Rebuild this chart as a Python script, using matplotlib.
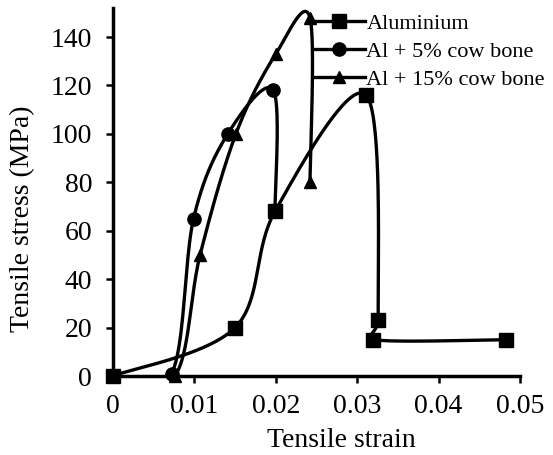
import numpy as np
import matplotlib
matplotlib.use("Agg")
import matplotlib.pyplot as plt

plt.rcParams['font.family'] = ['Liberation Serif', 'DejaVu Serif']

al_x = [0.0, 0.0150, 0.0199, 0.0311, 0.0326, 0.0320, 0.0483]
al_y = [0.0, 20.0, 68.0, 116.0, 23.0, 15.0, 15.0]

cb5_x = [0.0, 0.0072, 0.0099, 0.0141, 0.0197, 0.0199]
cb5_y = [0.0, 1.0, 65.0, 100.0, 118.0, 68.0]

cb15_x = [0.0, 0.0076, 0.0107, 0.0151, 0.0200, 0.0242, 0.0242]
cb15_y = [0.0, 0.0, 50.0, 100.0, 133.0, 148.0, 80.0]

labels = ["Aluminium", "Al + 5% cow bone", "Al + 15% cow bone"]
markers = ["s", "o", "^"]

x_ticks = [0, 0.01, 0.02, 0.03, 0.04, 0.05]
x_tick_labels = ["0", "0.01", "0.02", "0.03", "0.04", "0.05"]
y_ticks = [0, 20, 40, 60, 80, 100, 120, 140]

XLIM = (0, 0.05)
YLIM = (0, 152)


def smooth(xs, ys, scale, n=40):
    # Bezier smoothing done in (approximate) pixel space, control arms clamped
    s = np.asarray(scale, float)
    p = np.column_stack([xs, ys]).astype(float) * s
    m = len(p)
    out = [p[0]]
    for i in range(m - 1):
        p0 = p[i - 1] if i > 0 else p[i]
        p1 = p[i]
        p2 = p[i + 1]
        p3 = p[i + 2] if i + 2 < m else p[i + 1]
        seglen = np.linalg.norm(p2 - p1)
        v1 = (p2 - p0) / 6.0
        v2 = (p3 - p1) / 6.0
        lim = 0.5 * seglen
        for v in (v1, v2):
            L = np.linalg.norm(v)
            if L > lim and L > 0:
                v *= lim / L
        c1 = p1 + v1
        c2 = p2 - v2
        t = np.linspace(0, 1, n)[1:, None]
        seg = ((1 - t) ** 3) * p1 + 3 * ((1 - t) ** 2) * t * c1 + 3 * (1 - t) * t ** 2 * c2 + t ** 3 * p2
        out.extend(seg)
    out = np.array(out) / s
    return out[:, 0], out[:, 1]


fig = plt.figure(figsize=(5.53, 4.55), dpi=100)
ax = fig.add_axes([0.2043, 0.1736, 0.736, 0.8088])
ax.set_xlim(*XLIM)
ax.set_ylim(*YLIM)
bb = ax.get_window_extent()
scale = (bb.width / (XLIM[1] - XLIM[0]), bb.height / (YLIM[1] - YLIM[0]))

handles = []
for (xs, ys), lab, mk in zip([(al_x, al_y), (cb5_x, cb5_y), (cb15_x, cb15_y)], labels, markers):
    sx, sy = smooth(xs, ys, scale)
    ms = 9.5 if mk != '^' else 9
    ax.plot(sx, sy, color='black', lw=2.4, solid_capstyle='round')
    ax.plot(xs, ys, linestyle='none', marker=mk, color='black', markersize=ms, clip_on=False)
    h, = ax.plot([], [], color='black', lw=2.4, marker=mk, markersize=ms, label=lab)
    handles.append(h)

ax.set_xticks(x_ticks)
ax.set_xticklabels(x_tick_labels)
ax.set_yticks(y_ticks)
for s in ['top', 'right']:
    ax.spines[s].set_visible(False)
for s in ['left', 'bottom']:
    ax.spines[s].set_linewidth(2.5)
ax.tick_params(axis='both', direction='out', length=5, width=1.8, labelsize=20)
ax.tick_params(axis='y', pad=10)
ax.tick_params(axis='x', pad=8)

ax.set_xlabel("Tensile strain", fontsize=20)
ax.set_ylabel("Tensile stress (MPa)", fontsize=20)
ax.xaxis.set_label_coords((341 - 113) / 407, (376 - 428) / 368)
ax.yaxis.set_label_coords((35 - 113) / 407, (376 - 219) / 368)

leg = fig.legend(handles=handles, loc='upper left', bbox_to_anchor=(313 / 553, 1 - 13 / 455),
                 frameon=False, fontsize=16, handlelength=2.35, handletextpad=0.05,
                 labelspacing=0.34, numpoints=1, borderaxespad=0, borderpad=0)

fig.savefig("out.png", dpi=100)
